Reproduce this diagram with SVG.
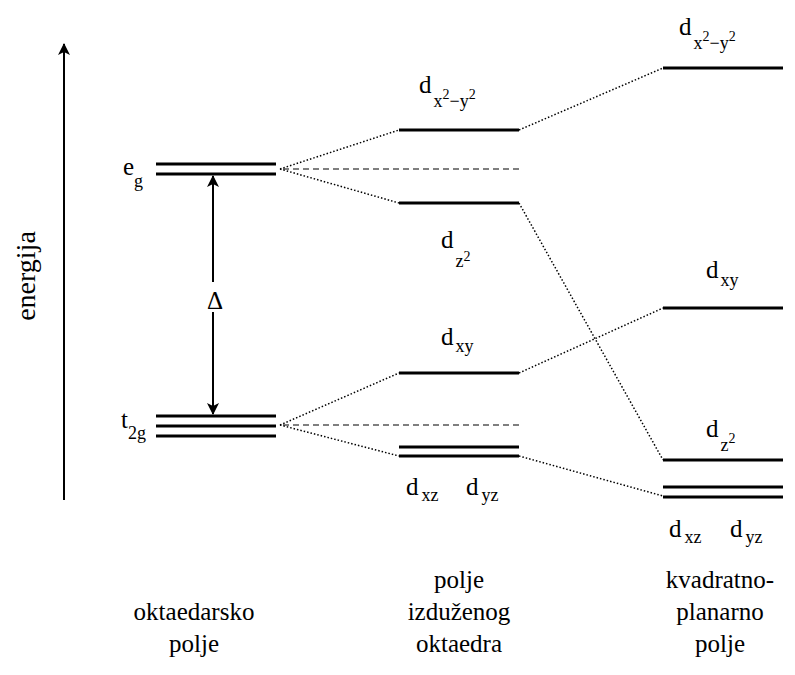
<svg xmlns="http://www.w3.org/2000/svg" width="795" height="675" viewBox="0 0 795 675">
<style>
svg g#axis text, svg g#delta text, svg g#eg text, svg g#t2g text, svg g#m_dx2y2 text, svg g#m_dz2 text, svg g#m_dxy text, svg g#m_dxzdyz text, svg g#r_dx2y2 text, svg g#r_dxy text, svg g#r_dz2 text, svg g#r_dxzdyz text, svg g#labels text, svg text tspan {font-family:'Liberation Serif','Times New Roman',Tinos,serif !important}
.lvl{stroke:#000;stroke-width:3;fill:none}
.dot{stroke:#000;stroke-width:1.5;stroke-dasharray:1.5 2;fill:none}
.dash{stroke:#000;stroke-width:1.2;stroke-dasharray:6 4;fill:none}
.ax{stroke:#000;stroke-width:2;fill:none}
</style>
<defs>
<marker id="ah" viewBox="0 0 12 12" refX="11" refY="6" markerWidth="12" markerHeight="12" markerUnits="userSpaceOnUse" orient="auto">
<path d="M0,0 L12,6 L0,12 L3,6 Z" fill="#000"/>
</marker>
</defs>
<rect width="795" height="675" fill="#fff"/>
<g id="axis">
<line class="ax" x1="64" y1="500" x2="64" y2="44" marker-end="url(#ah)"/>
<text transform="translate(35,276) rotate(-90)" text-anchor="middle" font-family="Liberation Serif" font-size="28" style="font-family:'Liberation Serif',serif !important">energija</text>
</g>
<g id="delta">
<line class="ax" x1="213" y1="282" x2="213" y2="176" marker-end="url(#ah)"/>
<line class="ax" x1="213" y1="312" x2="213" y2="414" marker-end="url(#ah)"/>
<text x="215" y="309" text-anchor="middle" font-family="Liberation Serif" font-size="25" style="font-family:'Liberation Serif',serif !important">Δ</text>
</g>
<g id="eg">
<line class="lvl" x1="156" y1="164" x2="276" y2="164"/>
<line class="lvl" x1="156" y1="174" x2="276" y2="174"/>
<text x="123" y="175" font-family="Liberation Serif" font-size="25" style="font-family:'Liberation Serif',serif !important">e<tspan font-size="18" y="187">g</tspan></text>
</g>
<g id="t2g">
<line class="lvl" x1="156" y1="416" x2="276" y2="416"/>
<line class="lvl" x1="156" y1="426" x2="276" y2="426"/>
<line class="lvl" x1="156" y1="436" x2="276" y2="436"/>
<text x="121" y="428" font-family="Liberation Serif" font-size="25" style="font-family:'Liberation Serif',serif !important">t<tspan font-size="18" y="439">2g</tspan></text>
</g>
<g id="m_dx2y2">
<line class="lvl" x1="399" y1="130" x2="519" y2="130"/>
<text x="419" y="93" font-family="Liberation Serif" font-size="25" style="font-family:'Liberation Serif',serif !important">d<tspan font-size="18" dx="2" y="107">x</tspan><tspan font-size="14" y="99">2</tspan><tspan font-size="18" y="107">−y</tspan><tspan font-size="14" y="99">2</tspan></text>
</g>
<g id="m_dz2">
<line class="lvl" x1="399" y1="203" x2="519" y2="203"/>
<text x="441" y="248" font-family="Liberation Serif" font-size="25" style="font-family:'Liberation Serif',serif !important">d<tspan font-size="18" dx="2" y="267">z</tspan><tspan font-size="14" y="261">2</tspan></text>
</g>
<g id="m_dxy">
<line class="lvl" x1="399" y1="373" x2="519" y2="373"/>
<text x="441" y="345" font-family="Liberation Serif" font-size="25" style="font-family:'Liberation Serif',serif !important">d<tspan font-size="18" dx="2" y="352">xy</tspan></text>
</g>
<g id="m_dxzdyz">
<line class="lvl" x1="399" y1="447" x2="519" y2="447"/>
<line class="lvl" x1="399" y1="456" x2="519" y2="456"/>
<text x="406" y="495" font-family="Liberation Serif" font-size="25" style="font-family:'Liberation Serif',serif !important">d<tspan font-size="18" dx="3" y="501">xz</tspan></text>
<text x="466" y="495" font-family="Liberation Serif" font-size="25" style="font-family:'Liberation Serif',serif !important">d<tspan font-size="18" dx="3" y="501">yz</tspan></text>
</g>
<g id="r_dx2y2">
<line class="lvl" x1="663" y1="68" x2="783" y2="68"/>
<text x="679" y="35" font-family="Liberation Serif" font-size="25" style="font-family:'Liberation Serif',serif !important">d<tspan font-size="18" dx="2" y="49">x</tspan><tspan font-size="14" y="41">2</tspan><tspan font-size="18" y="49">−y</tspan><tspan font-size="14" y="41">2</tspan></text>
</g>
<g id="r_dxy">
<line class="lvl" x1="663" y1="308" x2="783" y2="308"/>
<text x="706" y="278" font-family="Liberation Serif" font-size="25" style="font-family:'Liberation Serif',serif !important">d<tspan font-size="18" dx="2" y="286">xy</tspan></text>
</g>
<g id="r_dz2">
<line class="lvl" x1="663" y1="460" x2="783" y2="460"/>
<text x="706" y="437" font-family="Liberation Serif" font-size="25" style="font-family:'Liberation Serif',serif !important">d<tspan font-size="18" dx="2" y="451">z</tspan><tspan font-size="14" y="443">2</tspan></text>
</g>
<g id="r_dxzdyz">
<line class="lvl" x1="663" y1="487" x2="783" y2="487"/>
<line class="lvl" x1="663" y1="497" x2="783" y2="497"/>
<text x="669" y="537" font-family="Liberation Serif" font-size="25" style="font-family:'Liberation Serif',serif !important">d<tspan font-size="18" dx="3" y="543">xz</tspan></text>
<text x="730" y="537" font-family="Liberation Serif" font-size="25" style="font-family:'Liberation Serif',serif !important">d<tspan font-size="18" dx="3" y="543">yz</tspan></text>
</g>
<g id="connectors">
<line class="dash" x1="283" y1="169" x2="520" y2="169"/>
<line class="dash" x1="283" y1="425" x2="520" y2="425"/>
<line class="dot" x1="280" y1="169" x2="399" y2="130"/>
<line class="dot" x1="280" y1="169" x2="399" y2="203"/>
<line class="dot" x1="280" y1="425" x2="399" y2="373"/>
<line class="dot" x1="280" y1="425" x2="399" y2="456"/>
<line class="dot" x1="519" y1="130" x2="663" y2="68"/>
<line class="dot" x1="519" y1="203" x2="663" y2="460"/>
<line class="dot" x1="519" y1="373" x2="663" y2="308"/>
<line class="dot" x1="519" y1="456" x2="663" y2="496"/>
</g>
<g id="labels">
<text x="194" y="620" text-anchor="middle" font-family="Liberation Serif" font-size="25" style="font-family:'Liberation Serif',serif !important">oktaedarsko</text>
<text x="194" y="652" text-anchor="middle" font-family="Liberation Serif" font-size="25" style="font-family:'Liberation Serif',serif !important">polje</text>
<text x="459" y="588" text-anchor="middle" font-family="Liberation Serif" font-size="25" style="font-family:'Liberation Serif',serif !important">polje</text>
<text x="459" y="620" text-anchor="middle" font-family="Liberation Serif" font-size="25" style="font-family:'Liberation Serif',serif !important">izduženog</text>
<text x="459" y="652" text-anchor="middle" font-family="Liberation Serif" font-size="25" style="font-family:'Liberation Serif',serif !important">oktaedra</text>
<text x="720" y="588" text-anchor="middle" font-family="Liberation Serif" font-size="25" style="font-family:'Liberation Serif',serif !important">kvadratno-</text>
<text x="720" y="620" text-anchor="middle" font-family="Liberation Serif" font-size="25" style="font-family:'Liberation Serif',serif !important">planarno</text>
<text x="720" y="652" text-anchor="middle" font-family="Liberation Serif" font-size="25" style="font-family:'Liberation Serif',serif !important">polje</text>
</g>
</svg>
